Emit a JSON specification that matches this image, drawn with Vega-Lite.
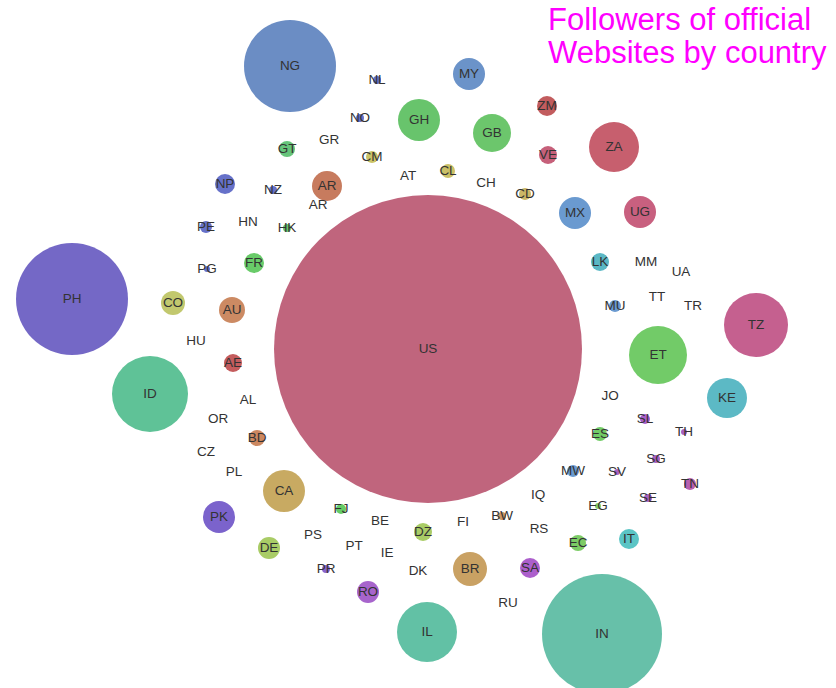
{
  "$schema": "https://vega.github.io/schema/vega-lite/v6.json",
  "width": 836,
  "height": 688,
  "autosize": {"type": "none"},
  "padding": 0,
  "background": "white",
  "config": {"view": {"stroke": null}},
  "title": {
    "text": ["Followers of official", "Websites by country"],
    "orient": "top",
    "anchor": "start",
    "frame": "group",
    "dx": 548,
    "offset": -70,
    "font": "Liberation Sans",
    "fontSize": 31,
    "fontWeight": "normal",
    "color": "#ff00ff",
    "lineHeight": 33
  },
  "data": {
    "values": [
      {"c": "US", "x": 428, "y": 349, "v": 23716},
      {"c": "NG", "x": 290, "y": 66, "v": 2116},
      {"c": "PH", "x": 72, "y": 299, "v": 3136},
      {"c": "ID", "x": 150, "y": 394, "v": 1444},
      {"c": "IN", "x": 602, "y": 634, "v": 3600},
      {"c": "IL", "x": 427, "y": 632, "v": 900},
      {"c": "TZ", "x": 756, "y": 325, "v": 1024},
      {"c": "ET", "x": 658, "y": 355, "v": 841},
      {"c": "ZA", "x": 614, "y": 147, "v": 625},
      {"c": "KE", "x": 727, "y": 398, "v": 400},
      {"c": "CA", "x": 284, "y": 491, "v": 441},
      {"c": "BR", "x": 470, "y": 569, "v": 289},
      {"c": "GH", "x": 419, "y": 120, "v": 441},
      {"c": "GB", "x": 492, "y": 133, "v": 361},
      {"c": "MY", "x": 469, "y": 74, "v": 256},
      {"c": "UG", "x": 640, "y": 212, "v": 256},
      {"c": "MX", "x": 575, "y": 213, "v": 256},
      {"c": "AR", "x": 327, "y": 186, "v": 225},
      {"c": "PK", "x": 219, "y": 517, "v": 256},
      {"c": "AU", "x": 232, "y": 310, "v": 169},
      {"c": "CO", "x": 173, "y": 303, "v": 144},
      {"c": "DE", "x": 269, "y": 548, "v": 121},
      {"c": "RO", "x": 368, "y": 592, "v": 121},
      {"c": "SA", "x": 530, "y": 568, "v": 100},
      {"c": "NP", "x": 225, "y": 184, "v": 100},
      {"c": "FR", "x": 254, "y": 263, "v": 100},
      {"c": "IT", "x": 629, "y": 539, "v": 100},
      {"c": "ZM", "x": 547, "y": 106, "v": 100},
      {"c": "VE", "x": 548, "y": 155, "v": 81},
      {"c": "LK", "x": 600, "y": 262, "v": 81},
      {"c": "AE", "x": 233, "y": 363, "v": 81},
      {"c": "BD", "x": 257, "y": 438, "v": 64},
      {"c": "DZ", "x": 423, "y": 532, "v": 81},
      {"c": "EC", "x": 578, "y": 543, "v": 64},
      {"c": "ES", "x": 600, "y": 434, "v": 49},
      {"c": "GT", "x": 287, "y": 149, "v": 64},
      {"c": "CM", "x": 372, "y": 157, "v": 36},
      {"c": "CL", "x": 448, "y": 171, "v": 49},
      {"c": "CD", "x": 525, "y": 194, "v": 36},
      {"c": "MW", "x": 573, "y": 471, "v": 36},
      {"c": "MU", "x": 615, "y": 306, "v": 36},
      {"c": "PE", "x": 206, "y": 227, "v": 36},
      {"c": "SL", "x": 645, "y": 419, "v": 25},
      {"c": "TN", "x": 690, "y": 484, "v": 36},
      {"c": "SG", "x": 656, "y": 459, "v": 16},
      {"c": "SE", "x": 648, "y": 498, "v": 16},
      {"c": "BW", "x": 502, "y": 516, "v": 16},
      {"c": "FJ", "x": 341, "y": 509, "v": 25},
      {"c": "HK", "x": 287, "y": 228, "v": 16},
      {"c": "NZ", "x": 273, "y": 190, "v": 16},
      {"c": "NL", "x": 377, "y": 80, "v": 16},
      {"c": "NO", "x": 360, "y": 118, "v": 16},
      {"c": "PR", "x": 326, "y": 569, "v": 16},
      {"c": "TH", "x": 684, "y": 432, "v": 9},
      {"c": "EG", "x": 598, "y": 506, "v": 9},
      {"c": "SV", "x": 617, "y": 472, "v": 9},
      {"c": "PG", "x": 207, "y": 269, "v": 9},
      {"c": "GR", "x": 329, "y": 140, "v": 0},
      {"c": "AT", "x": 408, "y": 176, "v": 0},
      {"c": "CH", "x": 486, "y": 183, "v": 0},
      {"c": "HN", "x": 248, "y": 222, "v": 0},
      {"c": "AR", "x": 318, "y": 205, "v": 0},
      {"c": "HU", "x": 196, "y": 341, "v": 0},
      {"c": "AL", "x": 248, "y": 400, "v": 0},
      {"c": "OR", "x": 218, "y": 419, "v": 0},
      {"c": "CZ", "x": 206, "y": 452, "v": 0},
      {"c": "PL", "x": 234, "y": 472, "v": 0},
      {"c": "PS", "x": 313, "y": 535, "v": 0},
      {"c": "PT", "x": 354, "y": 546, "v": 0},
      {"c": "BE", "x": 380, "y": 521, "v": 0},
      {"c": "IE", "x": 387, "y": 553, "v": 0},
      {"c": "DK", "x": 418, "y": 571, "v": 0},
      {"c": "FI", "x": 463, "y": 522, "v": 0},
      {"c": "IQ", "x": 538, "y": 495, "v": 0},
      {"c": "RS", "x": 539, "y": 529, "v": 0},
      {"c": "RU", "x": 508, "y": 603, "v": 0},
      {"c": "JO", "x": 610, "y": 396, "v": 0},
      {"c": "MM", "x": 646, "y": 262, "v": 0},
      {"c": "UA", "x": 681, "y": 272, "v": 0},
      {"c": "TT", "x": 657, "y": 297, "v": 0},
      {"c": "TR", "x": 693, "y": 306, "v": 0}
    ]
  },
  "encoding": {
    "x": {"field": "x", "type": "quantitative", "scale": {"domain": [0, 836], "nice": false, "zero": false}, "axis": null},
    "y": {"field": "y", "type": "quantitative", "scale": {"domain": [0, 688], "nice": false, "zero": false, "reverse": true}, "axis": null}
  },
  "layer": [
    {
      "transform": [{"filter": "datum.v > 0"}],
      "mark": {"type": "circle", "opacity": 1, "clip": false},
      "encoding": {
        "size": {"field": "v", "type": "quantitative", "scale": {"type": "linear", "domain": [0, 23716], "range": [0, 94864], "zero": true}, "legend": null},
        "color": {
          "field": "c", "type": "nominal", "legend": null,
          "scale": {
            "domain": ["US","NG","PH","ID","IN","IL","TZ","ET","ZA","KE","CA","BR","GH","GB","MY","UG","MX","AR","PK","AU","CO","DE","RO","SA","NP","FR","IT","ZM","VE","LK","AE","BD","DZ","EC","ES","GT","CM","CL","CD","MW","MU","PE","SL","TN","SG","SE","BW","FJ","HK","NZ","NL","NO","PR","TH","EG","SV","PG"],
            "range": ["#c0657d","#6b8dc4","#7468c6","#5fc297","#67c0a9","#62c1a5","#c5608f","#72cb68","#c75f6e","#5cb9c5","#c8aa62","#c9a163","#68c46c","#6cc66c","#6b93c9","#c8607f","#6a9ad0","#c77b5e","#7b63cc","#cc8a63","#c2c86e","#a9cc66","#a764cc","#ac5fcc","#6671c9","#69cb69","#5bc5c5","#c25c5e","#c6607a","#5bb8c5","#c45c5d","#cc8860","#a9cc66","#7ccc66","#72cc66","#66c47a","#cbc366","#cbc066","#cbb666","#6a9ad0","#6a9ad0","#6671c9","#aa5fcc","#b85fb0","#a860c0","#a860c0","#cc9966","#66cc66","#66c46c","#6671c9","#6671c9","#6671c9","#8a64cc","#a860c0","#88cc66","#a860c0","#6671c9"]
          }
        }
      }
    },
    {
      "mark": {"type": "text", "font": "Liberation Sans", "fontSize": 13.5, "fill": "#333333", "align": "center", "baseline": "middle"},
      "encoding": {"text": {"field": "c", "type": "nominal"}}
    }
  ]
}
